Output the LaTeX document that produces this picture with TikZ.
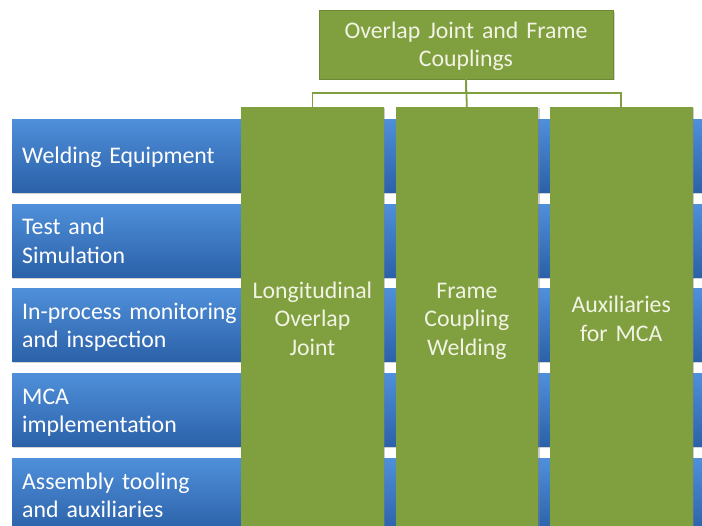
\documentclass[tikz,border=0pt]{standalone}
\usepackage{fontspec}
\setmainfont{Carlito}
\usetikzlibrary{positioning,shadows}
\definecolor{barlight}{HTML}{4F8FDA}
\definecolor{bardark}{HTML}{2B61A8}
\definecolor{olivebox}{HTML}{80A040}
\definecolor{creamtext}{HTML}{F2F3E4}
\newcommand\highstrut{\rule{0pt}{25pt}}
\newcommand\boxfont{\fontsize{23.8}{28.5}\selectfont\spaceskip=5.5pt plus 1pt minus 1pt\relax}
\begin{document}
\begin{tikzpicture}[
    x=1pt, y=1pt,
    bar/.style={minimum width=700pt, minimum height=73pt, inner xsep=10pt, text width=680pt, align=left,
      top color=barlight, bottom color=bardark, text=white, font=\boxfont,
      execute at begin node=\highstrut, execute at end node=\strut,
      drop shadow={shadow xshift=1pt, shadow yshift=-1.5pt, opacity=.35}},
    col/.style={minimum width=142.5pt, minimum height=423pt, text width=135pt, inner xsep=3.75pt, align=center,
      fill=olivebox, text=creamtext, font=\boxfont,
      execute at begin node=\highstrut, execute at end node=\strut,
      drop shadow={shadow xshift=1.5pt, shadow yshift=-1pt, opacity=.4}},
    head/.style={minimum width=294pt, minimum height=63pt, text width=286pt, inner xsep=4pt, align=center,
      fill=olivebox, draw=olivebox!85!black, line width=.4pt, text=creamtext, font=\boxfont,
      execute at begin node=\highstrut, execute at end node=\strut,
      drop shadow={shadow xshift=1.5pt, shadow yshift=-1.5pt, opacity=.35}},
    link/.style={draw=olivebox, line width=1.8pt}
  ]
    \useasboundingbox (0,0) rectangle (702,-526);
    \clip (0,0) rectangle (702,-526);
    \node[bar, anchor=north west] (weld) at (12,-119) {Welding Equipment};
    \node[bar, below=11.5pt of weld] (test) {Test and\\Simulation};
    \node[bar, below=11.5pt of test] (monitor) {In-process monitoring\\and inspection};
    \node[bar, below=11.5pt of monitor] (mca) {MCA\\implementation};
    \node[bar, below=11.5pt of mca] (tooling) {Assembly tooling\\and auxiliaries};
    \node[col, anchor=north west] (overlap) at (241,-107) {Longitudinal\\Overlap\\Joint};
    \node[col, right=11.5pt of overlap] (frame) {Frame\\Coupling\\Welding};
    \node[col, right=11.5pt of frame] (aux) {Auxiliaries\\for MCA};
    \node[head] (top) at (466,-44.5) {Overlap Joint and Frame\\Couplings};
    \draw[link] (top.south) -- ++(0,-14) -| (overlap.north);
    \draw[link] (top.south) -- ++(0,-14) -| (aux.north);
    \draw[link] (top.south) -- (frame.north);
  \end{tikzpicture}
\end{document}
